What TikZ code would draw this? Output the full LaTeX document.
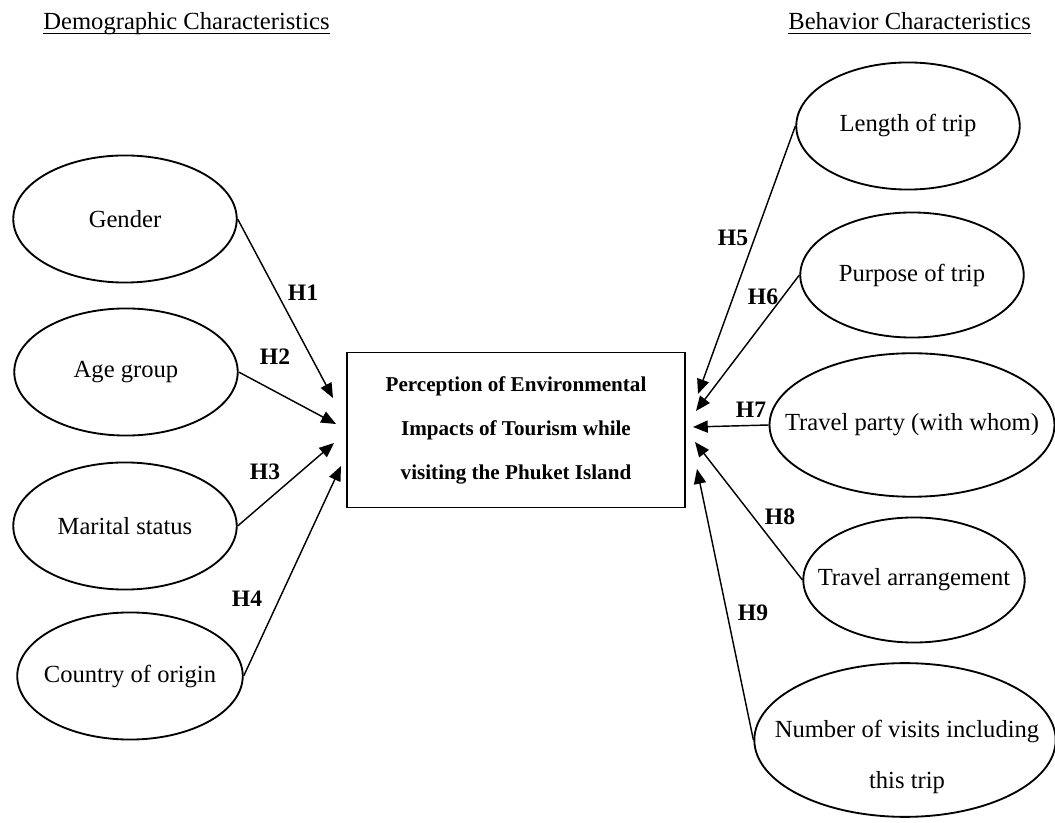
\documentclass[tikz,border=0pt]{standalone}
\usepackage{fontspec}
\setmainfont{Liberation Serif}
\usetikzlibrary{shapes.geometric}
\usetikzlibrary{arrows.meta}

\begin{document}
\begin{tikzpicture}[x=0.4878pt,y=-0.4878pt,
        >={Triangle[length=7.2pt,width=5.9pt]},
        bubble/.style={ellipse,draw,line width=0.9pt,inner xsep=-30pt,inner ysep=0pt,
            minimum width=109pt,minimum height=62pt,font=\fontsize{12}{14}\selectfont},
        hyp/.style={font=\bfseries\fontsize{11.5}{14}\selectfont,inner sep=0pt},
        head/.style={font=\fontsize{12}{14}\selectfont,inner sep=0pt,anchor=base west},
        link/.style={->,line width=0.7pt}]
        \useasboundingbox (0,0) rectangle (1055,823);

        % headings
        \node[head] (demohead) at (43,30) {Demographic Characteristics};
        \node[head] (behavhead) at (788,30) {Behavior Characteristics};
        \draw[line width=0.5pt] ([yshift=-1.6pt]demohead.base west) -- ([yshift=-1.6pt]demohead.base east);
        \draw[line width=0.5pt] ([yshift=-1.6pt]behavhead.base west) -- ([yshift=-1.6pt]behavhead.base east);

        % centre box
        \node[draw,line width=0.9pt,minimum width=165pt,minimum height=75.6pt,align=center,
            font=\bfseries\fontsize{10.3}{21.5}\selectfont] (percep) at (516,430)
            {Perception of Environmental\\Impacts of Tourism while\\visiting the Phuket Island};

        % demographic side
        \node[bubble] (gender) at (125,219) {Gender};
        \node[bubble] (age) at (126,372) {Age group};
        \node[bubble] (marital) at (125,526) {Marital status};
        \node[bubble,minimum width=110pt] (country) at (130,676) {Country of origin};

        % behavior side
        \node[bubble] (length) at (908,126) {Length of trip};
        \node[bubble,minimum height=61pt] (purpose) at (912,275) {Purpose of trip};
        \node[bubble,minimum width=139pt,minimum height=70pt] (party) at (912,425) {Travel party (with whom)};
        \node[bubble,minimum width=108pt,minimum height=61pt] (arrange) at (914,580) {Travel arrangement};
        \node[bubble,minimum width=147pt,minimum height=75pt] (visits) at (905,740) {};
        \node[align=center,font=\fontsize{12}{24.9}\selectfont] (visitstext) at (907,757)
            {Number of visits including\\this trip};

        % arrow ends near the box
        \coordinate (in1) at (333,398);
        \coordinate (in2) at (336,424);
        \coordinate (in3) at (334,443);
        \coordinate (in4) at (341,466);
        \coordinate (in5) at (698,394);
        \coordinate (in6) at (696,411);
        \coordinate (in7) at (693,427);
        \coordinate (in8) at (695,442);
        \coordinate (in9) at (697,469);

        \draw[link] (gender.east) -- (in1);
        \draw[link] (age.east) -- (in2);
        \draw[link] (marital.east) -- (in3);
        \draw[link] (country.east) -- (in4);
        \draw[link] (length.west) -- (in5);
        \draw[link] (purpose.west) -- (in6);
        \draw[link] (party.west) -- (in7);
        \draw[link] (arrange.west) -- (in8);
        \draw[link] (visits.west) -- (in9);

        % hypotheses
        \node[hyp] (h1) at (303,293) {H1};
        \node[hyp] (h2) at (275,357) {H2};
        \node[hyp] (h3) at (265,472) {H3};
        \node[hyp] (h4) at (247,599) {H4};
        \node[hyp] (h5) at (733,238) {H5};
        \node[hyp] (h6) at (763,297) {H6};
        \node[hyp] (h7) at (751,410) {H7};
        \node[hyp] (h8) at (780,517) {H8};
        \node[hyp] (h9) at (753,613) {H9};
    \end{tikzpicture}
\end{document}
